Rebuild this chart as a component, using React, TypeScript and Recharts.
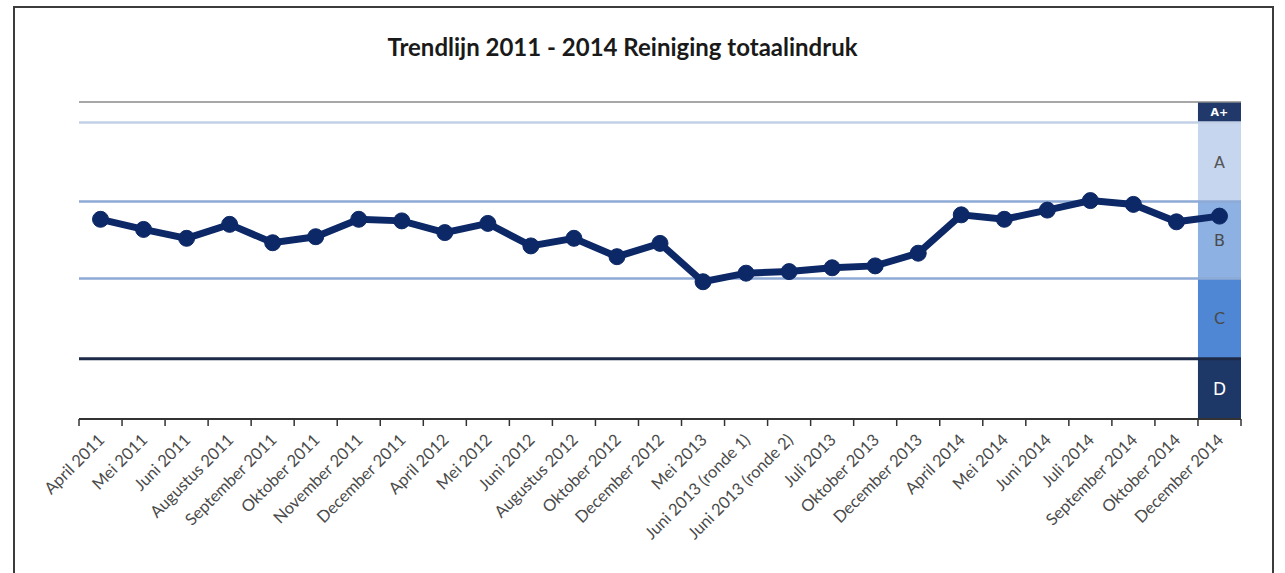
import React from 'react';
import { LineChart, Line, XAxis, YAxis, ReferenceLine, ReferenceArea } from 'recharts';

const months = [
  'April 2011', 'Mei 2011', 'Juni 2011', 'Augustus 2011', 'September 2011', 'Oktober 2011',
  'November 2011', 'December 2011', 'April 2012', 'Mei 2012', 'Juni 2012', 'Augustus 2012',
  'Oktober 2012', 'December 2012', 'Mei 2013', 'Juni 2013 (ronde 1)', 'Juni 2013 (ronde 2)',
  'Juli 2013', 'Oktober 2013', 'December 2013', 'April 2014', 'Mei 2014', 'Juni 2014',
  'Juli 2014', 'September 2014', 'Oktober 2014', 'December 2014',
];

const scores = [
  63.0, 59.8, 57.0, 61.4, 55.6, 57.5, 63.0, 62.5, 58.8, 61.7, 54.6, 57.0, 51.2, 55.4,
  43.3, 46.0, 46.5, 47.7, 48.3, 52.3, 64.4, 63.0, 65.9, 68.9, 67.7, 62.2, 64.0,
];

// grade bands, bottom to top
const grades = ['D', 'C', 'B', 'A', 'A+'];
const gradeEdges = [0, 19, 44.3, 68.6, 93.5, 100];

const bandFill = ['#1d3867', '#4f87d4', '#8db1e2', '#c6d6ef', '#21396a'];
const bandText = ['#ffffff', '#4a4a4a', '#4a4a4a', '#555555', '#ffffff'];
const bandFont = [17, 16, 16, 16, 11];
const lineStroke = ['#1c2a48', '#8eaad6', '#8eaad6', '#c2d0e6'];
const lineWidth = [3, 2.5, 2.5, 2.5];

const data = months.map((month, i) => ({ month, score: scores[i] }));

const MonthTick = (props: any) => {
  const { x, y, payload, index } = props;
  const half = payload.offset ?? 0;
  const ax = x + 5;
  const ay = y + 22;
  return (
    <g>
      <line x1={x - half} y1={y} x2={x - half} y2={y + 7} stroke="#333" strokeWidth={1.5} />
      {index === months.length - 1 && (
        <line x1={x + half} y1={y} x2={x + half} y2={y + 7} stroke="#333" strokeWidth={1.5} />
      )}
      <text
        x={ax}
        y={ay}
        transform={`rotate(-45, ${ax}, ${ay})`}
        textAnchor="end"
        fontSize={16.5}
        fontFamily="Lato, 'Open Sans', sans-serif"
        fill="#4a4a4a"
      >
        {payload.value}
      </text>
    </g>
  );
};

const App = () => {
  const last = months[months.length - 1];
  return (
    <div style={{ position: 'absolute', left: 0, top: 0, width: 1285, height: 573, overflow: 'hidden', background: '#fff' }}>
      <div
        style={{
          position: 'absolute',
          left: 13,
          top: 6,
          width: 1261,
          height: 620,
          border: '2px solid #3c3c3c',
          boxSizing: 'border-box',
        }}
      />
      <div
        style={{
          position: 'absolute',
          left: 0,
          top: 32,
          width: 1245,
          textAlign: 'center',
          fontFamily: "Lato, 'Open Sans', sans-serif",
          fontWeight: 700,
          fontSize: 24,
          lineHeight: '29px',
          color: '#1a1a1a',
        }}
      >
        Trendlijn 2011 - 2014 Reiniging totaalindruk
      </div>
      <div style={{ position: 'absolute', left: 0, top: 0 }}>
        <LineChart width={1285} height={573} data={data} margin={{ top: 102, right: 44, bottom: 0, left: 79 }}>
          <XAxis
            dataKey="month"
            scale="band"
            interval={0}
            tickLine={false}
            tickSize={0}
            tickMargin={0}
            height={154}
            axisLine={{ stroke: '#333', strokeWidth: 2 }}
            tick={<MonthTick />}
          />
          <YAxis type="number" domain={[0, 100]} width={0} tick={false} tickLine={false} axisLine={{ stroke: '#444', strokeWidth: 1.5 }} />
          <ReferenceLine y={100} stroke="#8a8a8a" strokeWidth={1.5} />
          {gradeEdges.slice(1, 5).map((v, i) => (
            <ReferenceLine key={`l${i}`} y={v} stroke={lineStroke[i]} strokeWidth={lineWidth[i]} />
          ))}
          {grades.map((g, i) => (
            <ReferenceArea
              key={g}
              x1={last}
              x2={last}
              y1={gradeEdges[i]}
              y2={gradeEdges[i + 1]}
              fill={bandFill[i]}
              fillOpacity={1}
              stroke="none"
              label={{
                value: g,
                position: 'center',
                fill: bandText[i],
                fontSize: bandFont[i],
                fontWeight: i === 4 ? 700 : 400,
                fontFamily: "'DejaVu Sans', sans-serif",
              }}
            />
          ))}
          <Line
            dataKey="score"
            stroke="#0c2866"
            strokeWidth={7}
            dot={{ r: 8, fill: '#0c2866', stroke: '#0c2866', strokeWidth: 1 }}
            isAnimationActive={false}
          />
        </LineChart>
      </div>
    </div>
  );
};

export default App;
